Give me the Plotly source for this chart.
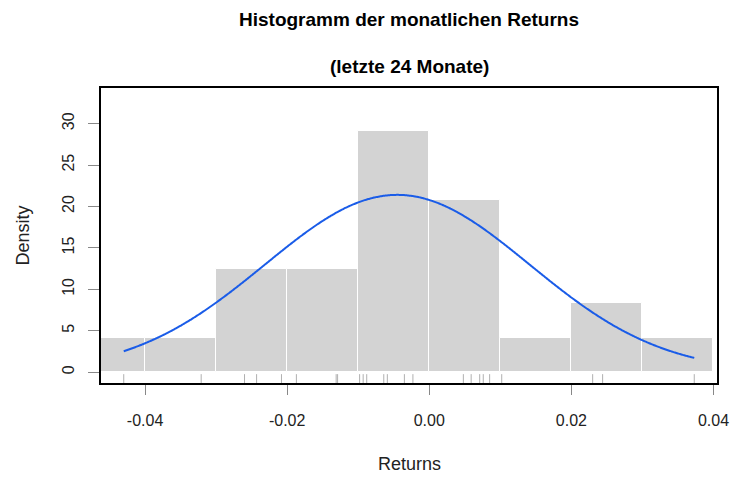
import numpy as np
import plotly.graph_objects as go

# Monthly returns (last 24 months)
returns = [-0.0430, -0.0321, -0.0260, -0.0243, -0.0208, -0.0187, -0.0131, -0.0129,
           -0.0098, -0.0093, -0.0088, -0.0064, -0.0059, -0.0035, -0.0023,
           0.0048, 0.0059, 0.0071, 0.0076, 0.0085,
           0.0102, 0.0230, 0.0244, 0.0373]

# Histogram bins (width 0.01) and densities
bin_left = [-0.05, -0.04, -0.03, -0.02, -0.01, 0.00, 0.01, 0.02, 0.03]
density = [4.17, 4.17, 12.5, 12.5, 29.17, 20.83, 4.17, 8.33, 4.17]

x_ticks = [-0.04, -0.02, 0.00, 0.02, 0.04]
x_ticklabels = ["-0.04", "-0.02", "0.00", "0.02", "0.04"]
y_ticks = [0, 5, 10, 15, 20, 25, 30]

r = np.array(returns)
mu = r.mean()
sd = r.std(ddof=1)
xc = np.linspace(r.min(), r.max(), 400)
yc = np.exp(-0.5 * ((xc - mu) / sd) ** 2) / (sd * np.sqrt(2 * np.pi))

bw = 0.01
fig = go.Figure()
fig.add_trace(go.Bar(
    x=[b + bw / 2 for b in bin_left], y=density, width=[bw] * len(bin_left),
    marker=dict(color="#d3d3d3", line=dict(color="white", width=1)),
    hoverinfo="skip"))

y_lo, y_hi = -1.3, 34.3
rug_top = y_lo + 0.03 * (y_hi - y_lo)
rx, ry = [], []
for v in returns:
    rx += [v, v, None]
    ry += [y_lo, rug_top, None]
fig.add_trace(go.Scatter(x=rx, y=ry, mode="lines",
                         line=dict(color="#b0b0b0", width=1), hoverinfo="skip"))

fig.add_trace(go.Scatter(x=xc, y=yc, mode="lines",
                         line=dict(color="#1a5ce8", width=2, shape="spline"),
                         hoverinfo="skip"))

# page body has an 8px margin; figure is sized/offset to compensate
W, H = 747, 486
L, T = 93, 80
PW, PH = 616, 295
fnt = "Liberation Sans, Arial, Helvetica, sans-serif"
fig.update_layout(
    width=W, height=H,
    margin=dict(l=L, r=W - L - PW, t=T, b=H - T - PH, autoexpand=False),
    paper_bgcolor="white", plot_bgcolor="white",
    showlegend=False, bargap=0,
    font=dict(family=fnt, color="#222222"),
    title=dict(text="<b>Histogramm der monatlichen Returns</b>",
               x=(L + PW / 2) / W, xanchor="center",
               y=1 - 11 / H, yanchor="middle", yref="container",
               font=dict(size=19, color="black", family=fnt)),
    xaxis=dict(range=[-0.0462, 0.0405], tickvals=x_ticks, ticktext=x_ticklabels,
               ticks="outside", ticklen=10, tickcolor="#888888", tickwidth=1,
               showgrid=False, zeroline=False, showline=True, mirror=True,
               linecolor="black", linewidth=2, automargin=False,
               tickfont=dict(size=16, color="#222222"), ticklabelstandoff=12),
    yaxis=dict(range=[y_lo, y_hi], tickvals=y_ticks, tickangle=-90,
               ticks="outside", ticklen=11, tickcolor="#888888", tickwidth=1,
               showgrid=False, zeroline=False, showline=True, mirror=True,
               linecolor="black", linewidth=2, automargin=False,
               tickfont=dict(size=16, color="#222222"), ticklabelstandoff=8),
    annotations=[
        dict(text="<b>(letzte 24 Monate)</b>", xref="paper", yref="paper",
             x=0.5, y=1 + (87 - 65) / PH, xanchor="center", yanchor="middle",
             showarrow=False, font=dict(size=19, color="black", family=fnt)),
        dict(text="Returns", xref="paper", yref="paper",
             x=0.5, y=-(463 - 382) / PH, xanchor="center", yanchor="middle",
             showarrow=False, font=dict(size=18, color="#222222", family=fnt)),
        dict(text="Density", xref="paper", yref="paper", textangle=-90,
             x=-(101 - 22) / PW, y=0.5, xanchor="center", yanchor="middle",
             showarrow=False, font=dict(size=18, color="#222222", family=fnt)),
    ],
)

fig.write_html("out.html")
